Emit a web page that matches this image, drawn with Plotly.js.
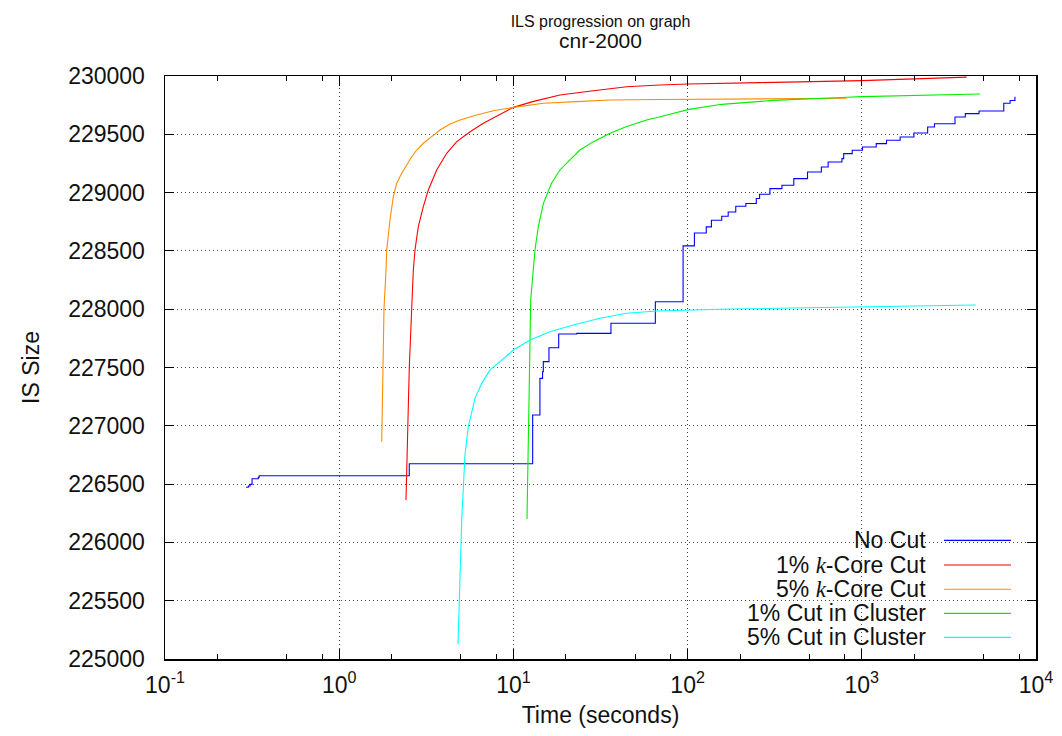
<!DOCTYPE html>
<html>
<head>
<meta charset="utf-8">
<script src="https://cdn.plot.ly/plotly-3.0.1.min.js"></script>
<style>html,body{margin:0;padding:0;background:#fff;}#chart{width:1062px;height:736px;}</style>
</head>
<body>
<div id="chart"></div>
<script>
// ---- data ----
const seriesNames = ["No Cut", "1% <i style=\"font-family:'Liberation Serif'\">k</i>-Core Cut", "5% <i style=\"font-family:'Liberation Serif'\">k</i>-Core Cut", "1% Cut in Cluster", "5% Cut in Cluster"];
const seriesColors = ["#0000ff", "#ff0000", "#ff8c00", "#00f000", "#00ffff"];

const noCutT = [0.292,0.301,0.308,0.316,0.343,0.347,2.525,12.9,14.2,14.7,14.85,16.0,18.2,23.1,36.3,65.3,94.2,109.4,128,137,157,171,189,216,248,259,297,348,407,488,586,641,769,787,881,1009,1210,1386,1660,1991,2388,2614,3428,3929,4710,6531,7100,7570];
const noCutY = [226473,226484,226498,226546,226558,226572,226675,227093,227407,227464,227550,227670,227787,227793,227879,228064,228543,228654,228706,228763,228797,228834,228883,228906,228949,228986,229034,229063,229120,229177,229220,229263,229291,229334,229363,229391,229420,229449,229477,229511,229563,229591,229649,229677,229700,229766,229790,229823];

const core1T = [2.418,2.46,2.526,2.608,2.664,2.723,2.845,3.04,3.248,3.628,4.14,4.73,5.64,6.72,8.37,10,12.9,18.5,28.8,44.7,69.5,100,260,505,1000,2000,4000];
const core1Y = [226364,226864,227507,228008,228336,228508,228708,228879,229022,229194,229337,229437,229522,229594,229666,229731,229780,229837,229874,229908,229923,229932,229943,229951,229960,229975,229990];

const core5T = [1.754,1.777,1.808,1.857,1.874,1.957,2.045,2.138,2.285,2.441,2.608,2.786,3.04,3.396,3.79,4.325,4.937,6.15,7.67,10,14.86,23.1,35.9,69.5,100,300,818];
const core5Y = [226864,227507,228008,228336,228508,228765,228965,229080,229166,229237,229308,229365,229423,229480,229537,229588,229623,229666,229702,229731,229766,229780,229794,229798,229800,229804,229809];

const clus1T = [11.97,12.02,12.18,12.34,12.57,13.0,13.3,13.9,14.86,16.55,18.5,21.1,24.1,28.8,35.9,44.7,58.2,69.5,102,157,310,769,1000,4775];
const clus1Y = [226201,226364,226792,227221,228079,228336,228508,228708,228908,229080,229194,229280,229365,229437,229509,229566,229623,229651,229714,229757,229791,229815,229823,229846];

const clus5T = [4.81,4.94,5.05,5.12,5.16,5.27,5.51,6.02,6.58,7.34,8.38,10.0,12.45,16.2,22.1,31.4,44.7,66.4,153.5,1270,4510];
const clus5Y = [225126,225821,226192,226364,226507,226750,226992,227235,227364,227479,227550,227650,227736,227807,227865,227922,227965,227985,228000,228021,228036];

const xTickVals = [0.1, 1, 10, 100, 1000, 10000];
const xTickText = ["10<sup>-1</sup>", "10<sup>0</sup>", "10<sup>1</sup>", "10<sup>2</sup>", "10<sup>3</sup>", "10<sup>4</sup>"];
const xMinorVals = [0.2,0.5,0.8,2,5,8,20,50,80,200,500,800,2000,5000,8000];
const yTickVals = [225000,225500,226000,226500,227000,227500,228000,228500,229000,229500,230000];

// ---- traces ----
const allT = [noCutT, core1T, core5T, clus1T, clus5T];
const allY = [noCutY, core1Y, core5Y, clus1Y, clus5Y];
const shapesForLine = ["hv", "linear", "linear", "linear", "linear"];
const traces = allT.map((t, i) => ({
  x: t, y: allY[i], type: "scatter", mode: "lines", name: seriesNames[i],
  line: {color: seriesColors[i], width: 1.1, shape: shapesForLine[i]},
  showlegend: false, hoverinfo: "skip"
}));

// ---- custom gnuplot-style legend (text right, sample line right of it) ----
const legendTextX = 0.876, legendLineX0 = 0.8944, legendLineX1 = 0.9713;
const legendRowY = [0.2036, 0.1612, 0.1196, 0.0784, 0.0372];
const annotations = seriesNames.map((n, i) => ({
  xref: "paper", yref: "paper", x: legendTextX, y: legendRowY[i],
  xanchor: "right", yanchor: "middle", text: n, showarrow: false,
  font: {family: "Liberation Sans, Arial, sans-serif", size: 23, color: "#111"}
}));
const shapes = [{
  type: "rect", xref: "paper", yref: "paper", x0: 0.5947, x1: 1, y0: 0, y1: 0.2247,
  fillcolor: "#ffffff", line: {width: 0}, layer: "between"
}].concat(seriesColors.map((c, i) => ({
  type: "line", xref: "paper", yref: "paper", x0: legendLineX0, x1: legendLineX1,
  y0: legendRowY[i], y1: legendRowY[i], line: {color: c, width: 1.2}, layer: "above"
})));

const baseFont = {family: "Liberation Sans, Arial, sans-serif", size: 23, color: "#111"};

const layout = {
  width: 1062, height: 736,
  margin: {l: 165, r: 26, t: 76, b: 77, pad: 0},
  paper_bgcolor: "#fff", plot_bgcolor: "#fff",
  font: baseFont,
  title: {
    text: "ILS progression on graph<br><span style=\"font-size:21px\">cnr-2000</span>",
    font: {family: "Liberation Sans Narrow, Arial Narrow, Liberation Sans, sans-serif", size: 16, color: "#111"},
    x: 0.5, xref: "paper", xanchor: "center", y: 0.963, yref: "container", yanchor: "top"
  },
  xaxis: {
    type: "log", range: [-1, 4],
    tickmode: "array", tickvals: xTickVals, ticktext: xTickText,
    ticks: "inside", ticklen: 10, tickwidth: 1, tickcolor: "#000",
    showline: true, linecolor: "#000", linewidth: 1.5, mirror: "ticks",
    showgrid: true, gridcolor: "#444", gridwidth: 1, griddash: "1px,3px",
    zeroline: false, ticklabelstandoff: 5,
    minor: {tickmode: "array", tickvals: xMinorVals, ticks: "inside", ticklen: 5, tickcolor: "#000", tickwidth: 1, showgrid: false},
    tickfont: baseFont,
    title: {text: "Time (seconds)", font: baseFont, standoff: 10}
  },
  yaxis: {
    range: [225000, 230000],
    tickmode: "array", tickvals: yTickVals, tickformat: "d",
    ticks: "inside", ticklen: 9, tickwidth: 1, tickcolor: "#000",
    showline: true, linecolor: "#000", linewidth: 1.5, mirror: "ticks",
    showgrid: true, gridcolor: "#444", gridwidth: 1, griddash: "1px,3px",
    zeroline: false, ticklabelstandoff: 14,
    tickfont: baseFont,
    title: {text: "IS Size", font: baseFont, standoff: 22}
  },
  annotations: annotations,
  shapes: shapes
};

Plotly.newPlot("chart", traces, layout, {staticPlot: true, displayModeBar: false});
</script>
</body>
</html>
